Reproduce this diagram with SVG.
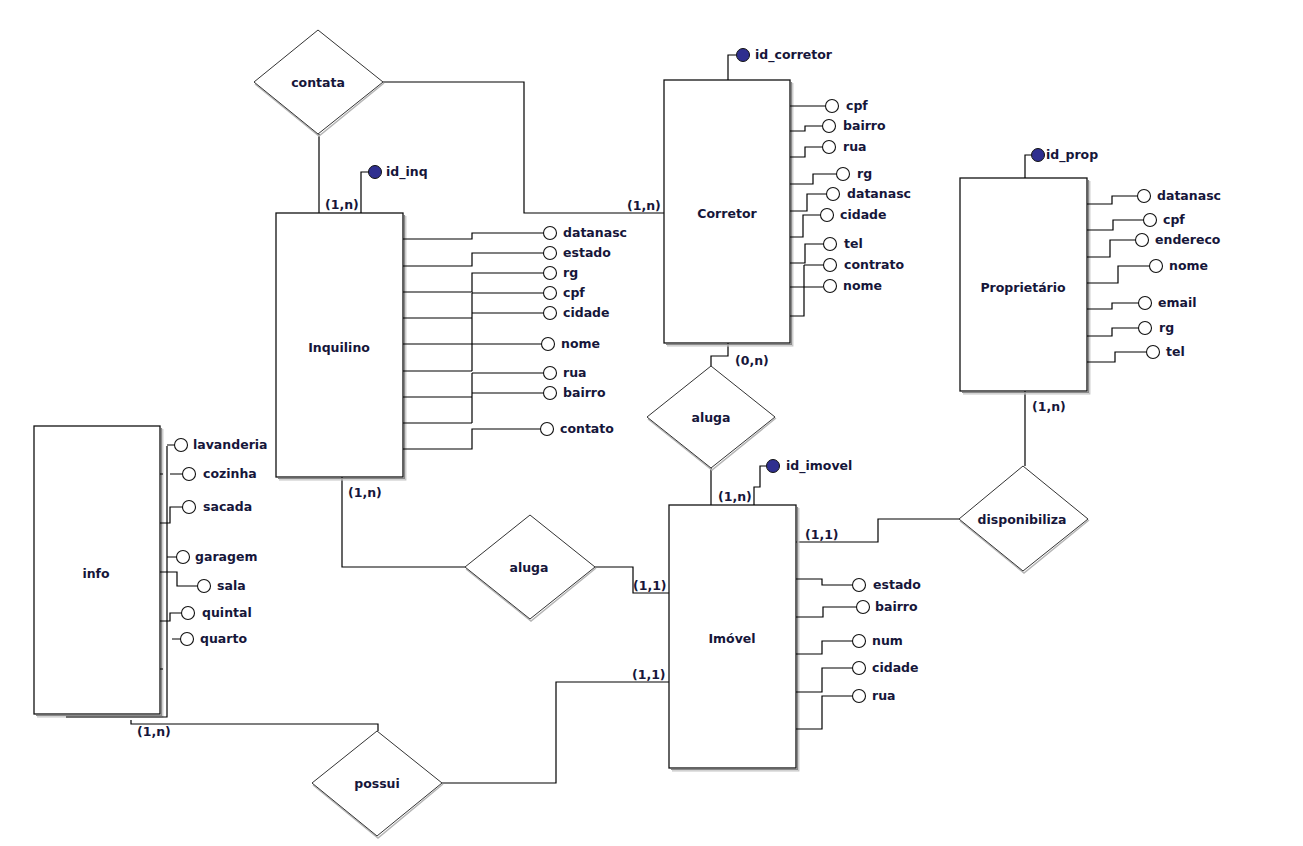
<svg xmlns="http://www.w3.org/2000/svg" width="1303" height="846" viewBox="0 0 1303 846">
<defs>
<style>
.ln{fill:none;stroke:#000;stroke-width:1.2}
.box{fill:#fff;stroke:#111;stroke-width:1.3}
.shadow{fill:none;stroke:#8a8a8a;stroke-width:1.2}
.shadow2{fill:none;stroke:#c4c4c4;stroke-width:1.2}
.dia{fill:#fff;stroke:#333;stroke-width:1}
.dsh{fill:none;stroke:#b5b5b5;stroke-width:1.5}
.att{fill:#fff;stroke:#111;stroke-width:1.1}
.key{fill:#2f2f8f;stroke:#111;stroke-width:1}
text{font-family:"DejaVu Sans","Liberation Sans",sans-serif;font-weight:bold;font-size:12.5px;fill:#16163a}
.c{text-anchor:middle;dominant-baseline:central}
</style>
</defs>
<rect width="1303" height="846" fill="#fff"/>

<g id="connectors">
<path class="ln" d="M319,134 V213"/>
<path class="ln" d="M383,82 H524 V213 H664"/>
<path class="ln" d="M728,343 V356 H711 V366"/>
<path class="ln" d="M711,468 V505"/>
<path class="ln" d="M342,477 V567 H465"/>
<path class="ln" d="M595,567 H633 V593 H669"/>
<path class="ln" d="M796,542 H878 V519 H959"/>
<path class="ln" d="M1025,391 V466"/>
<path class="ln" d="M131,720 V724 H378 V731"/>
<path class="ln" d="M442,783 H556 V682 H669"/>
<text x="325" y="209">(1,n)</text>
<text x="627" y="210">(1,n)</text>
<text x="735" y="365">(0,n)</text>
<text x="718" y="501">(1,n)</text>
<text x="348" y="497">(1,n)</text>
<text x="633" y="590">(1,1)</text>
<text x="805" y="539">(1,1)</text>
<text x="1032" y="411">(1,n)</text>
<text x="137" y="736">(1,n)</text>
<text x="632" y="679">(1,1)</text>
</g>

<g id="contata">
<path class="dsh" d="M384,83 L319,136 L255,84"/>
<polygon class="dia" points="318,30 383,82 318,134 254,82"/>
<text class="c" x="318" y="82">contata</text>
</g>

<g id="aluga_corretor">
<path class="dsh" d="M776,418 L712,470 L648,419"/>
<polygon class="dia" points="711,366 775,417 711,468 647,417"/>
<text class="c" x="711" y="417">aluga</text>
</g>

<g id="aluga_inquilino">
<path class="dsh" d="M596,568 L531,621 L466,569"/>
<polygon class="dia" points="530,515 595,567 530,619 465,567"/>
<text class="c" x="529" y="567">aluga</text>
</g>

<g id="disponibiliza">
<path class="dsh" d="M1089,520 L1024,573 L960,521"/>
<polygon class="dia" points="1023,466 1088,519 1023,571 959,519"/>
<text class="c" x="1022" y="519">disponibiliza</text>
</g>

<g id="possui">
<path class="dsh" d="M443,784 L378,838 L313,785"/>
<polygon class="dia" points="377,731 442,783 377,836 312,783"/>
<text class="c" x="377" y="783">possui</text>
</g>

<g id="inquilino">
<path class="shadow" d="M404.5,215 V478.5 H278"/>
<path class="shadow2" d="M405.8,216 V479.8 H279"/>
<rect class="box" x="276" y="213" width="127" height="264"/>
<text class="c" x="339" y="347">Inquilino</text>
<path class="ln" d="M361,213 V172 H369"/>
<circle class="key" cx="375" cy="172" r="6.5"/>
<text x="386" y="176">id_inq</text>
<path class="ln" d="M403,239 H472 V233 H543 M403,266 H472 V253 H543 M403,292 H472 V273 H543 M472,293 V371 M472,293 H543 M472,313 H543 M403,318 H472 M403,344 H541 M403,371 H472 M472,373 V423 M472,373 H543 M472,393 H543 M403,397 H472 M403,423 H472 M403,449 H472 V429 H540"/>
<circle class="att" cx="550" cy="233" r="6.5"/><text x="563" y="237">datanasc</text>
<circle class="att" cx="550" cy="253" r="6.5"/><text x="563" y="257">estado</text>
<circle class="att" cx="550" cy="273" r="6.5"/><text x="563" y="277">rg</text>
<circle class="att" cx="550" cy="293" r="6.5"/><text x="563" y="297">cpf</text>
<circle class="att" cx="550" cy="313" r="6.5"/><text x="563" y="317">cidade</text>
<circle class="att" cx="548" cy="344" r="6.5"/><text x="561" y="348">nome</text>
<circle class="att" cx="550" cy="373" r="6.5"/><text x="563" y="377">rua</text>
<circle class="att" cx="550" cy="393" r="6.5"/><text x="563" y="397">bairro</text>
<circle class="att" cx="547" cy="429" r="6.5"/><text x="560" y="433">contato</text>
</g>

<g id="corretor">
<path class="shadow" d="M791.5,82 V344.5 H666"/>
<path class="shadow2" d="M792.8,83 V345.8 H667"/>
<rect class="box" x="664" y="80" width="126" height="263"/>
<text class="c" x="727" y="213">Corretor</text>
<path class="ln" d="M728,80 V55 H736"/>
<circle class="key" cx="743" cy="55" r="6.5"/>
<text x="755" y="59">id_corretor</text>
<path class="ln" d="M790,106 H825 M790,131 H805 V126 H822 M790,157 H805 V147 H822 M790,184 H813 V174 H836 M790,211 H807 V194 H826 M790,237 H803 V215 H820 M790,263 H805 V244 H823 M804,265 H823 M804,265 V316 H790 M790,287 H823"/>
<circle class="att" cx="832" cy="106" r="6.5"/><text x="846" y="110">cpf</text>
<circle class="att" cx="829" cy="126" r="6.5"/><text x="843" y="130">bairro</text>
<circle class="att" cx="829" cy="147" r="6.5"/><text x="843" y="151">rua</text>
<circle class="att" cx="843" cy="174" r="6.5"/><text x="857" y="178">rg</text>
<circle class="att" cx="833" cy="194" r="6.5"/><text x="847" y="198">datanasc</text>
<circle class="att" cx="827" cy="215" r="6.5"/><text x="840" y="219">cidade</text>
<circle class="att" cx="830" cy="244" r="6.5"/><text x="844" y="248">tel</text>
<circle class="att" cx="830" cy="265" r="6.5"/><text x="844" y="269">contrato</text>
<circle class="att" cx="830" cy="286" r="6.5"/><text x="843" y="290">nome</text>
</g>

<g id="proprietario">
<path class="shadow" d="M1088.5,180 V392.5 H962"/>
<path class="shadow2" d="M1089.8,181 V393.8 H963"/>
<rect class="box" x="960" y="178" width="127" height="213"/>
<text class="c" x="1023" y="287">Proprietário</text>
<path class="ln" d="M1025,178 V155 H1031"/>
<circle class="key" cx="1038" cy="155" r="6.5"/>
<text x="1046" y="159">id_prop</text>
<path class="ln" d="M1087,204 H1112 V196 H1137 M1087,230 H1113 V220 H1143 M1087,257 H1110 V240 H1135 M1087,283 H1118 V266 H1149 M1087,309 H1112 V303 H1138 M1087,336 H1112 V328 H1138 M1087,362 H1115 V352 H1146"/>
<circle class="att" cx="1144" cy="196" r="6.5"/><text x="1157" y="200">datanasc</text>
<circle class="att" cx="1150" cy="220" r="6.5"/><text x="1163" y="224">cpf</text>
<circle class="att" cx="1142" cy="240" r="6.5"/><text x="1155" y="244">endereco</text>
<circle class="att" cx="1156" cy="266" r="6.5"/><text x="1169" y="270">nome</text>
<circle class="att" cx="1145" cy="303" r="6.5"/><text x="1158" y="307">email</text>
<circle class="att" cx="1145" cy="328" r="6.5"/><text x="1159" y="332">rg</text>
<circle class="att" cx="1153" cy="352" r="6.5"/><text x="1166" y="356">tel</text>
</g>

<g id="imovel">
<path class="shadow" d="M797.5,507 V769.5 H671"/>
<path class="shadow2" d="M798.8,508 V770.8 H672"/>
<rect class="box" x="669" y="505" width="127" height="263"/>
<text class="c" x="732" y="638">Imóvel</text>
<path class="ln" d="M754,505 V487 H760 V466 H766"/>
<circle class="key" cx="773" cy="466" r="6.5"/>
<text x="786" y="470">id_imovel</text>
<path class="ln" d="M796,579 H822 V585 H852 M796,617 H823 V607 H856 M796,654 H822 V641 H852 M796,692 H822 V668 H852 M796,729 H822 V696 H852"/>
<circle class="att" cx="859" cy="585" r="6.5"/><text x="873" y="589">estado</text>
<circle class="att" cx="863" cy="607" r="6.5"/><text x="875" y="611">bairro</text>
<circle class="att" cx="859" cy="641" r="6.5"/><text x="872" y="645">num</text>
<circle class="att" cx="859" cy="668" r="6.5"/><text x="872" y="672">cidade</text>
<circle class="att" cx="859" cy="696" r="6.5"/><text x="872" y="700">rua</text>
</g>

<g id="info">
<path class="shadow" d="M161.5,428 V715.5 H36"/>
<path class="shadow2" d="M162.8,429 V716.8 H37"/>
<rect class="box" x="34" y="426" width="126" height="288"/>
<text class="c" x="96" y="573">info</text>
<path class="ln" d="M167,446 V717 H66 M167,445 H174 M170,474 H182 M160,474 H163 M160,523 H170 V507 H182 M167,557 H176 M160,572 H177 V586 H197 M160,621 H170 V613 H181 M172,639 H180 M160,669 H163"/>
<circle class="att" cx="181" cy="445" r="6.5"/><text x="193" y="449">lavanderia</text>
<circle class="att" cx="189" cy="474" r="6.5"/><text x="203" y="478">cozinha</text>
<circle class="att" cx="189" cy="507" r="6.5"/><text x="203" y="511">sacada</text>
<circle class="att" cx="183" cy="557" r="6.5"/><text x="195" y="561">garagem</text>
<circle class="att" cx="204" cy="586" r="6.5"/><text x="217" y="590">sala</text>
<circle class="att" cx="188" cy="613" r="6.5"/><text x="202" y="617">quintal</text>
<circle class="att" cx="187" cy="639" r="6.5"/><text x="200" y="643">quarto</text>
</g>
</svg>
